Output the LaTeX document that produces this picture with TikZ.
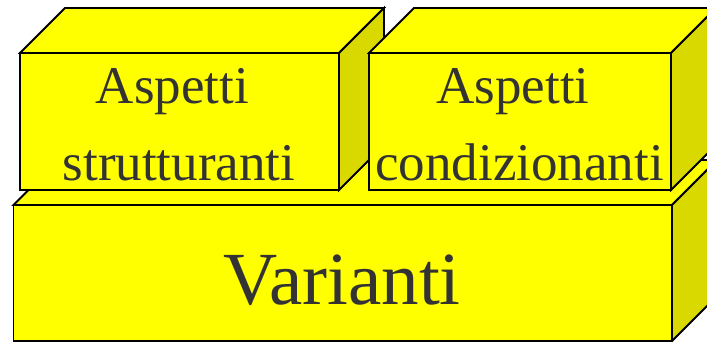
\documentclass[tikz,border=0pt]{standalone}
\usepackage{fontspec}
\setmainfont{Liberation Serif}
\definecolor{face}{RGB}{255,255,0}
\definecolor{sideface}{RGB}{217,217,0}
\definecolor{txt}{RGB}{51,51,51}
\tikzset{
  boxline/.style={draw=black,line width=1.8pt,line join=miter},
  lbl/.style={text=txt,inner sep=0pt,anchor=base,font=\fontsize{53}{60}\selectfont},
  biglbl/.style={text=txt,inner sep=0pt,anchor=base,font=\fontsize{75}{80}\selectfont}
}
% x1 y1 x2 y2 depth  (y grows downward)
\newcommand\cuboid[5]{%
  \filldraw[boxline,fill=face] (#1,#2) -- (#1+#5,#2-#5) -- (#3+#5,#2-#5) -- (#3,#2) -- cycle;
  \filldraw[boxline,fill=sideface] (#3,#2) -- (#3+#5,#2-#5) -- (#3+#5,#4-#5) -- (#3,#4) -- cycle;
  \filldraw[boxline,fill=face] (#1,#2) rectangle (#3,#4);
}
\begin{document}
\begin{tikzpicture}[x=1pt,y=-1pt]
\useasboundingbox (0,0) rectangle (707,342);
\clip (0,0) rectangle (707,342);
\fill[white] (0,0) rectangle (707,342);
% bottom block
\cuboid{13.5}{205}{672}{341}{45}
% top left block
\cuboid{20}{53}{339}{190}{45}
% top right block
\cuboid{369}{53}{671}{190}{45}
\node[lbl] (s1) at (172.5,104) {Aspetti};
\node[lbl] (s2) at (179,181) {strutturanti};
\node[lbl] (c1) at (513,104) {Aspetti};
\node[lbl] (c2) at (519.5,181) {condizionanti};
\node[biglbl] (v) at (342,304) {Varianti};
\end{tikzpicture}
\end{document}
